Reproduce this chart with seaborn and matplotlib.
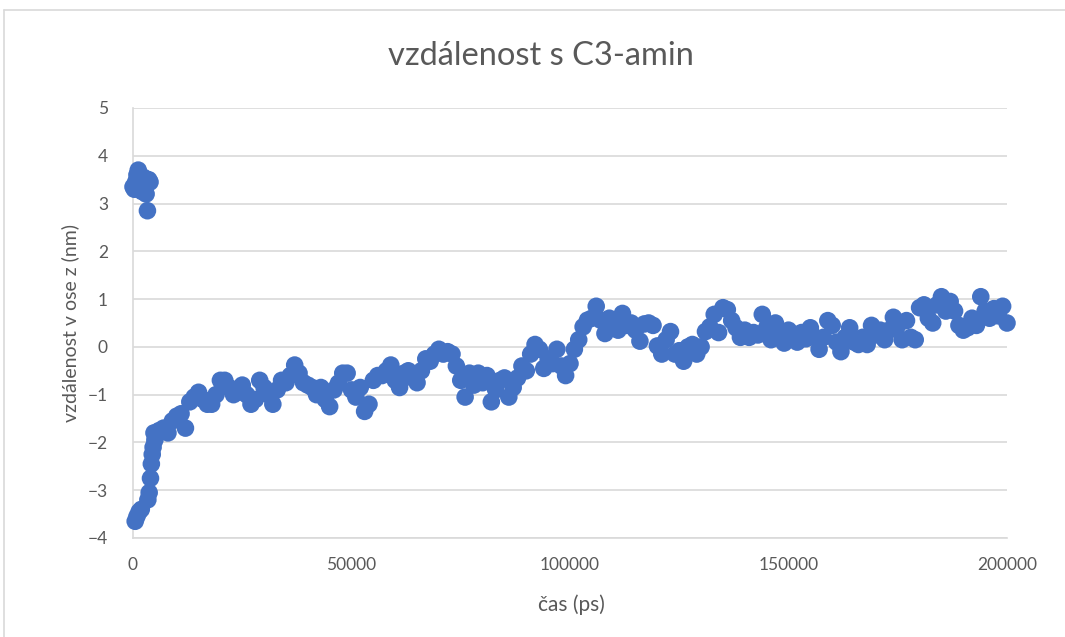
import matplotlib.pyplot as plt
import numpy as np
import pandas as pd
import seaborn as sns
from matplotlib.lines import Line2D

# ------------------------------
# DATA
# ------------------------------
# first few ns: distance jumps between the +3.5 and -3.5 images
t_early = [0, 300, 600, 900, 1200, 1500, 1800, 2100, 2400, 2700, 3000, 3300, 3600, 3900,
           500, 900, 1400, 1900, 3400, 3700, 4000, 4200, 4400, 4600, 4800]
z_early = [3.35, 3.3, 3.45, 3.6, 3.7, 3.5, 3.35, 3.25, 3.55, 3.3, 3.2, 2.85, 3.5, 3.45,
           -3.65, -3.55, -3.45, -3.4, -3.2, -3.05, -2.75, -2.45, -2.25, -2.1, -1.8]

# then one frame every 1000 ps from 5000 ps to 200000 ps
T_START = 5000
T_STEP = 1000
z_main = [
    -1.95, -1.75, -1.7, -1.8, -1.55,  # 5000-9000
    -1.45, -1.4, -1.7, -1.15, -1.05, -0.95, -1.1, -1.2, -1.2, -1.0,  # 10000-19000
    -0.7, -0.7, -0.85, -1.0, -0.95, -0.8, -1.0, -1.2, -1.1, -0.7,  # 20000-29000
    -0.85, -1.0, -1.2, -0.9, -0.7, -0.75, -0.6, -0.38, -0.55, -0.75,  # 30000-39000
    -0.8, -0.85, -1.0, -0.85, -1.1, -1.25, -0.9, -0.76, -0.55, -0.55,  # 40000-49000
    -0.9, -1.05, -0.85, -1.35, -1.2, -0.7, -0.6, -0.6, -0.5, -0.38,  # 50000-59000
    -0.7, -0.85, -0.55, -0.5, -0.65, -0.75, -0.5, -0.25, -0.3, -0.15,  # 60000-69000
    -0.05, -0.15, -0.1, -0.15, -0.4, -0.7, -1.05, -0.55, -0.8, -0.55,  # 70000-79000
    -0.75, -0.6, -1.15, -0.9, -0.7, -0.65, -1.05, -0.85, -0.65, -0.4,  # 80000-89000
    -0.5, -0.15, 0.05, -0.05, -0.45, -0.25, -0.35, -0.05, -0.4, -0.6,  # 90000-99000
    -0.35, -0.05, 0.15, 0.42, 0.56, 0.6, 0.85, 0.56, 0.28, 0.6,  # 100000-109000
    0.5, 0.35, 0.7, 0.45, 0.5, 0.35, 0.12, 0.48, 0.5, 0.45,  # 110000-119000
    0.02, -0.15, 0.15, 0.32, -0.15, -0.08, -0.3, 0.0, 0.05, -0.15,  # 120000-129000
    0.0, 0.32, 0.42, 0.68, 0.3, 0.82, 0.78, 0.55, 0.4, 0.2,  # 130000-139000
    0.35, 0.2, 0.3, 0.25, 0.68, 0.4, 0.15, 0.5, 0.2, 0.08,  # 140000-149000
    0.35, 0.2, 0.1, 0.3, 0.17, 0.4, 0.2, -0.05, 0.2, 0.55,  # 150000-159000
    0.45, 0.1, -0.1, 0.2, 0.4, 0.1, 0.05, 0.2, 0.05, 0.45,  # 160000-169000
    0.25, 0.35, 0.15, 0.35, 0.62, 0.45, 0.15, 0.55, 0.2, 0.15,  # 170000-179000
    0.82, 0.88, 0.6, 0.5, 0.88, 1.05, 0.75, 0.95, 0.75, 0.45,  # 180000-189000
    0.35, 0.4, 0.6, 0.45, 1.05, 0.75, 0.6, 0.8, 0.65, 0.85,  # 190000-199000
    0.5,  # 200000
]

t_main = T_START + T_STEP * np.arange(len(z_main))
df = pd.DataFrame({
    "cas": np.concatenate([t_early, t_main]),
    "z": np.concatenate([z_early, z_main]),
})

# ------------------------------
# PLOT
# ------------------------------
sns.set_style("white")
plt.rcParams["font.family"] = ["Lato", "DejaVu Sans"]

GRID = "#d9d9d9"
TEXT = "#595959"
BLUE = "#4472C4"

fig = plt.figure(figsize=(10.65, 6.37), dpi=100)
ax = fig.add_axes([133 / 1065, 1 - 538 / 637, 874 / 1065, 430 / 637])

sns.scatterplot(data=df, x="cas", y="z", ax=ax, color=BLUE, s=160,
                linewidth=0, edgecolor="none", zorder=3, clip_on=False)

ax.set_xlim(0, 200000)
ax.set_ylim(-4, 5)
ax.set_xticks([0, 50000, 100000, 150000, 200000])
ax.set_yticks(range(-4, 6))
ax.yaxis.grid(True, color=GRID, linewidth=1.2)
ax.xaxis.grid(False)
for side in ["top", "right"]:
    ax.spines[side].set_visible(False)
for side in ["left", "bottom"]:
    ax.spines[side].set_color(GRID)
    ax.spines[side].set_linewidth(1.2)
ax.tick_params(axis="both", length=0, labelsize=12.5, labelcolor=TEXT)
ax.tick_params(axis="x", pad=14)
ax.tick_params(axis="y", pad=18)
ax.set_xlabel("")
ax.set_ylabel("")

fig.text(571 / 1065, 1 - 605 / 637, "čas (ps)", ha="center", va="center",
         fontsize=15, color=TEXT)
fig.text(70 / 1065, 1 - 323 / 637, "vzdálenost v ose z (nm)", ha="center",
         va="center", rotation=90, fontsize=14, color=TEXT)
fig.text(541 / 1065, 1 - 56 / 637, "vzdálenost s C3-amin", ha="center",
         va="center", fontsize=23.5, color=TEXT)

# chart-area border, cut off at the right and bottom like the screenshot
fig.add_artist(Line2D([4 / 1065, 4 / 1065], [0, 1 - 10 / 637],
                      transform=fig.transFigure, color=GRID, linewidth=1.2))
fig.add_artist(Line2D([4 / 1065, 1], [1 - 10 / 637, 1 - 10 / 637],
                      transform=fig.transFigure, color=GRID, linewidth=1.2))

plt.savefig("out.png", dpi=100)
plt.close()
